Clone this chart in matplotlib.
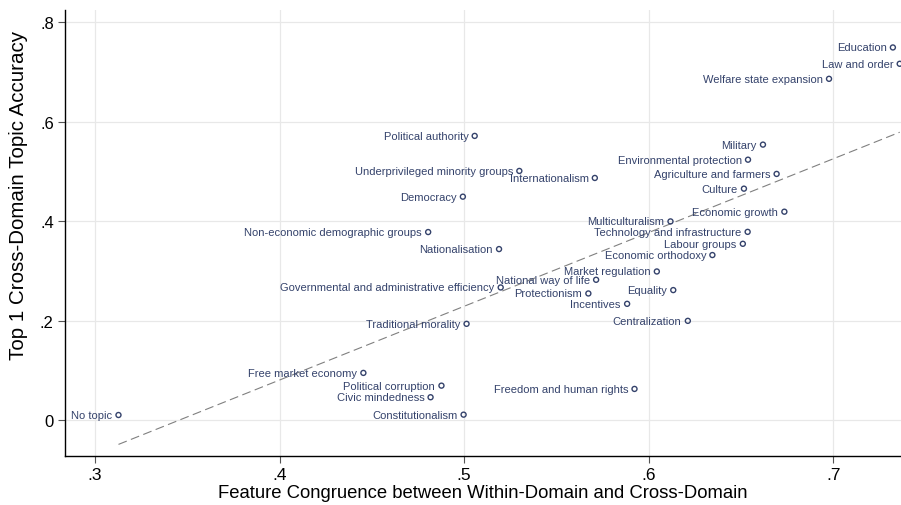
import numpy as np
import matplotlib.pyplot as plt

# dados
topicos = ['Education', 'Law and order', 'Welfare state expansion', 'Military',
           'Environmental protection', 'Agriculture and farmers', 'Culture',
           'Economic growth', 'Multiculturalism', 'Technology and infrastructure',
           'Labour groups', 'Economic orthodoxy', 'Market regulation',
           'National way of life', 'Protectionism', 'Equality', 'Incentives',
           'Centralization', 'Internationalism', 'Political authority',
           'Underprivileged minority groups', 'Democracy',
           'Non-economic demographic groups', 'Nationalisation',
           'Governmental and administrative efficiency', 'Traditional morality',
           'Free market economy', 'Political corruption', 'Civic mindedness',
           'Constitutionalism', 'No topic', 'Freedom and human rights']
congruencia = [0.7323, 0.7360, 0.6977, 0.6619, 0.6538, 0.6693, 0.6516,
               0.6735, 0.6118, 0.6536, 0.6510, 0.6345, 0.6044, 0.5715,
               0.5673, 0.6133, 0.5883, 0.6212, 0.5708, 0.5057, 0.5299,
               0.4993, 0.4805, 0.5189, 0.5198, 0.5013, 0.4454, 0.4877,
               0.4818, 0.4997, 0.3127, 0.5923]
acuracia = [0.7495, 0.7167, 0.6865, 0.5543, 0.5240, 0.4954, 0.4658,
            0.4195, 0.4000, 0.3790, 0.3550, 0.3324, 0.2994, 0.2827,
            0.2552, 0.2620, 0.2344, 0.2002, 0.4873, 0.5718, 0.5014,
            0.4497, 0.3786, 0.3444, 0.2673, 0.1942, 0.0956, 0.0700,
            0.0467, 0.0117, 0.0110, 0.0634]

xticks = [0.3, 0.4, 0.5, 0.6, 0.7]
yticks = [0, 0.2, 0.4, 0.6, 0.8]

plt.rcParams['font.family'] = ['Liberation Sans', 'DejaVu Sans']
cor = '#34426b'

fig = plt.figure(figsize=(9.01, 5.06), dpi=100)
ax = fig.add_axes([0.0721, 0.0968, 0.9279, 0.8814])

x = np.array(congruencia)
y = np.array(acuracia)

# reta de ajuste linear
coef = np.polyfit(x, y, 1)
xs = np.array([x.min(), x.max()])
ax.plot(xs, np.polyval(coef, xs), ls=(0, (8, 4)), color='#808080', lw=0.8, zorder=2)

ax.scatter(x, y, s=13, facecolors='none', edgecolors=cor, linewidths=1.0, zorder=3)
for nome, xi, yi in zip(topicos, x, y):
    ax.annotate(nome, (xi, yi), xytext=(-4.5, 0), textcoords='offset points',
                ha='right', va='center', fontsize=8, color=cor, zorder=4)

ax.set_xlim(0.2837, 0.7367)
ax.set_ylim(-0.0714, 0.8247)
ax.set_xticks(xticks)
ax.set_xticklabels(['.3', '.4', '.5', '.6', '.7'])
ax.set_yticks(yticks)
ax.set_yticklabels(['0', '.2', '.4', '.6', '.8'])
ax.grid(True, color='#e8e8e8', lw=0.9)
ax.set_axisbelow(True)
for lado in ['top', 'right']:
    ax.spines[lado].set_visible(False)
for lado in ['left', 'bottom']:
    ax.spines[lado].set_color('black')
    ax.spines[lado].set_linewidth(1.0)
ax.tick_params(axis='both', length=5, color='#555555', pad=3)
ax.tick_params(axis='x', labelsize=12.5)
ax.tick_params(axis='y', labelsize=12)
ax.set_xlabel('Feature Congruence between Within-Domain and Cross-Domain', fontsize=13.3, labelpad=1)
ax.set_ylabel('Top 1 Cross-Domain Topic Accuracy', fontsize=14.8)
ax.yaxis.set_label_coords(-0.044, 0.586)

fig.savefig('out.png', dpi=100)
